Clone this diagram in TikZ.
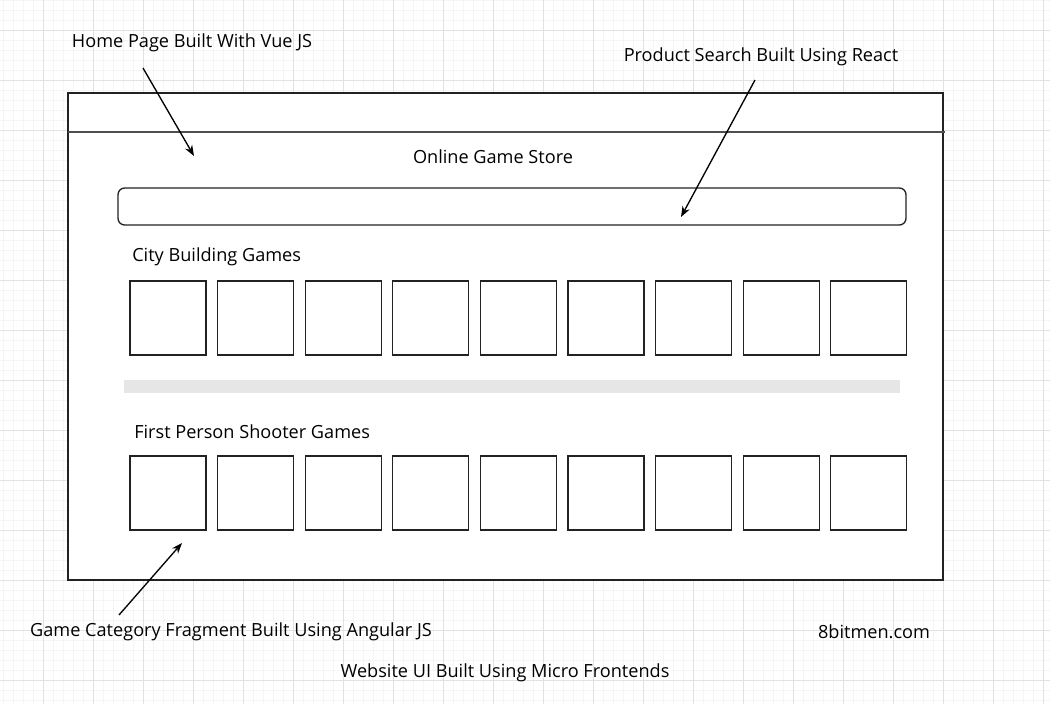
\documentclass[tikz,border=0pt]{standalone}
\usepackage{fontspec}
\setmainfont{Open Sans}
\usetikzlibrary{arrows.meta}
\definecolor{gridminor}{HTML}{F5F5F5}
\definecolor{gridmajor}{HTML}{E2E2E2}
\definecolor{barfill}{HTML}{E6E6E6}
\definecolor{ink}{HTML}{222222}
\begin{document}
\begin{tikzpicture}[x=0.75pt,y=-0.75pt,
  minorline/.style={draw=gridminor,line width=0.6pt},
  majorline/.style={draw=gridmajor,line width=0.7pt},
  frame/.style={draw=ink,line width=1pt,fill=white},
  tile/.style={draw=ink,line width=0.9pt,fill=white,minimum width=57pt,minimum height=55.5pt,inner sep=0pt},
  lbl/.style={font=\fontsize{13.6}{16}\selectfont,text=black,inner sep=0pt},
  pointer/.style={draw=black,line width=1pt,-{Stealth[length=8pt,width=6pt]}}]
\useasboundingbox (0,0) rectangle (1050,704);
\fill[white] (0,0) rectangle (1050,704);
% grid
\foreach \x in {3,13,...,1043} \draw[minorline] (\x,0) -- (\x,704);
\foreach \y in {0,10,...,700} \draw[minorline] (0,\y) -- (1050,\y);
\foreach \x in {43,93,...,1043} \draw[majorline] (\x,0) -- (\x,704);
\foreach \y in {30,80,...,680} \draw[majorline] (0,\y) -- (1050,\y);
% page frame
\draw[frame] (68,93) rectangle (943,580);
\draw[draw=ink!80,line width=1pt] (68,132) -- (945,132);
\node[lbl] (title) at (493,157) {Online Game Store};
% search bar
\draw[frame,rounded corners=5pt] (118,188) rectangle (906,225);
% category 1
\node[lbl,anchor=west] (cat1) at (132,257) {City Building Games};
\foreach \i in {0,...,8}
  \node[tile] (r1t\i) at ({168+87.6*\i},318) {};
% separator bar
\fill[barfill] (124,380) rectangle (900,393);
% category 2
\node[lbl,anchor=west] (cat2) at (134,432) {First Person Shooter Games};
\foreach \i in {0,...,8}
  \node[tile] (r2t\i) at ({168+87.6*\i},493) {};
% annotations
\node[lbl] (vue) at (192,43) {Home Page Built With Vue JS};
\node[lbl] (react) at (761,57) {Product Search Built Using React};
\node[lbl] (angular) at (231,632) {Game Category Fragment Built Using Angular JS};
\node[lbl] (site) at (874,632) {8bitmen.com};
\node[lbl] (caption) at (505,673) {Website UI Built Using Micro Frontends};
\coordinate (vueS) at (143,68);
\coordinate (vueE) at (194,156);
\coordinate (reactS) at (755,80);
\coordinate (reactE) at (681,217);
\coordinate (angS) at (119,615);
\coordinate (angE) at (182,543);
\draw[pointer] (vueS) -- (vueE);
\draw[pointer] (reactS) -- (reactE);
\draw[pointer] (angS) -- (angE);
\end{tikzpicture}
\end{document}
